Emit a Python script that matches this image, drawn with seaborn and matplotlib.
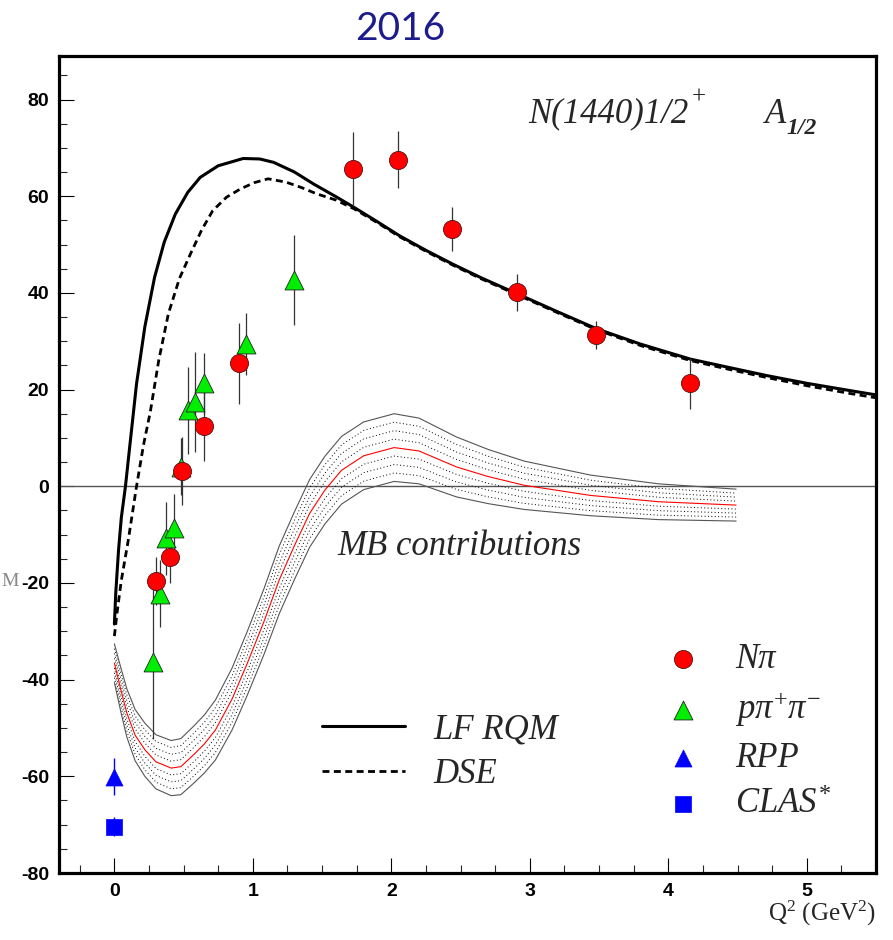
import matplotlib

matplotlib.use("Agg")
import matplotlib.pyplot as plt
import numpy as np
import pandas as pd
import seaborn as sns
from matplotlib.ticker import MultipleLocator

# ---- values ----
# LF RQM curve (solid)
lf_q2 = [0.0, 0.01, 0.03, 0.05, 0.08, 0.11, 0.16, 0.22, 0.29, 0.36, 0.44, 0.53, 0.62, 0.75,
         0.93, 1.05, 1.15, 1.30, 1.44, 1.60, 1.73, 1.90, 2.06, 2.25, 2.44, 2.65, 2.91, 3.20,
         3.48, 3.80, 4.16, 4.45, 4.71, 5.00, 5.31, 5.50]
lf_a12 = [-28.5, -22.0, -13.2, -6.5, 0.0, 8.0, 21.2, 33.0, 43.2, 50.5, 56.3, 60.8, 63.9, 66.3,
          67.8, 67.7, 67.0, 65.0, 62.5, 59.9, 57.7, 54.7, 51.8, 48.8, 46.0, 43.1, 39.8, 36.1,
          32.6, 29.4, 26.3, 24.5, 22.9, 21.3, 19.8, 18.9]

# DSE curve (dashed)
dse_q2 = [0.0, 0.02, 0.05, 0.10, 0.16, 0.21, 0.26, 0.32, 0.39, 0.47, 0.55, 0.63, 0.71, 0.81,
          0.91, 1.01, 1.11, 1.24, 1.35, 1.46, 1.60, 1.73, 1.90, 2.06, 2.25, 2.44, 2.65, 2.91,
          3.20, 3.48, 3.80, 4.16, 4.45, 4.71, 5.00, 5.31, 5.50]
dse_a12 = [-31.0, -26.0, -19.5, -11.2, 0.0, 8.5, 15.5, 26.0, 35.7, 43.0, 48.1, 53.0, 57.0, 59.8,
           61.5, 62.8, 63.6, 62.9, 61.8, 60.5, 59.2, 57.4, 54.5, 51.6, 48.6, 45.8, 42.9, 39.6,
           35.9, 32.4, 29.1, 26.0, 24.1, 22.5, 20.8, 19.2, 18.3]

# MB contributions band: centre line and half width
mb_q2 = [0.0, 0.05, 0.09, 0.15, 0.22, 0.30, 0.41, 0.48, 0.57, 0.65, 0.73, 0.85, 0.96, 1.08,
         1.19, 1.30, 1.41, 1.52, 1.64, 1.80, 2.02, 2.20, 2.47, 2.70, 2.96, 3.44, 3.93, 4.49]
mb_a12 = [-36.6, -42.5, -46.9, -51.5, -54.5, -57.0, -58.3, -58.0, -55.6, -53.3, -50.4, -44.0,
          -36.6, -28.0, -19.4, -12.3, -5.6, -0.8, 3.3, 6.3, 8.0, 7.3, 4.0, 2.0, 0.2, -1.9,
          -3.2, -3.9]
mb_halfwidth = [4.0, 4.6, 5.0, 5.3, 5.5, 5.6, 5.7, 5.8, 5.9, 6.0, 6.2, 6.4, 6.6, 6.8, 7.0, 7.0,
                7.0, 7.0, 7.0, 7.0, 7.0, 6.8, 6.2, 5.6, 5.0, 4.2, 3.7, 3.3]

# N pi data
npi_q2 = [0.30, 0.40, 0.49, 0.65, 0.90, 1.72, 2.05, 2.44, 2.91, 3.48, 4.16]
npi_a12 = [-19.6, -14.6, 3.1, 12.5, 25.4, 65.6, 67.5, 53.2, 40.1, 31.2, 21.3]
npi_err = [5.0, 5.5, 7.0, 7.3, 8.3, 7.6, 5.9, 4.5, 3.8, 2.9, 5.3]

# p pi+ pi- data
ppp_q2 = [0.28, 0.33, 0.37, 0.43, 0.48, 0.53, 0.58, 0.65, 0.95, 1.30]
ppp_a12 = [-36.3, -22.2, -10.8, -8.7, 4.0, 15.7, 17.4, 21.3, 29.5, 42.6]
ppp_err = [16.0, 7.0, 7.5, 7.0, 5.9, 9.0, 10.3, 6.3, 6.4, 9.3]

# photon points
rpp_q2 = [0.0]
rpp_a12 = [-60.1]
rpp_err = [3.8]
clas_q2 = [0.0]
clas_a12 = [-70.4]
clas_err = [2.0]

x_ticks = [0, 1, 2, 3, 4, 5]
y_ticks = [-80, -60, -40, -20, 0, 20, 40, 60, 80]

# ---- style ----
sns.set_theme(style="white")
plt.rcParams["font.family"] = ["Liberation Sans", "DejaVu Sans"]
plt.rcParams["axes.unicode_minus"] = False
plt.rcParams["mathtext.fontset"] = "custom"
plt.rcParams["mathtext.rm"] = "Liberation Serif"
plt.rcParams["mathtext.it"] = "Liberation Serif:italic"
plt.rcParams["mathtext.bf"] = "Liberation Serif:bold"

W, H = 893, 940
fig = plt.figure(figsize=(W / 100, H / 100), dpi=100)
fig.patch.set_facecolor("white")
ax = fig.add_axes([59 / W, 1 - 873 / H, (876 - 59) / W, (873 - 56) / H])
ax.set_facecolor("white")

ax.axhline(0, color="#555555", lw=1.0, zorder=1)

# MB band: outer solid lines, inner dotted lines, red centre
band_x = np.array(mb_q2)
band_c = np.array(mb_a12)
band_h = np.array(mb_halfwidth)
for frac in [-1, -0.75, -0.5, -0.25, 0.25, 0.5, 0.75, 1]:
    if abs(frac) == 1:
        style = dict(color="#555555", lw=0.8, linestyle="-")
    else:
        style = dict(color="black", lw=0.7, linestyle=(0, (1, 2.5)))
    sns.lineplot(x=band_x, y=band_c + frac * band_h, ax=ax, estimator=None, sort=False,
                 zorder=2, **style)
sns.lineplot(x=band_x, y=band_c, ax=ax, color="red", lw=0.8, estimator=None, sort=False,
             zorder=2)

# model curves
sns.lineplot(x=lf_q2, y=lf_a12, ax=ax, color="black", lw=2.2, estimator=None, sort=False,
             zorder=3, label="LF RQM")
sns.lineplot(x=dse_q2, y=dse_a12, ax=ax, color="black", lw=2.0, linestyle=(0, (2.5, 1.6)),
             estimator=None, sort=False, zorder=3, label="DSE")
line_handles = ax.get_lines()[-2:]
if ax.get_legend() is not None:
    ax.get_legend().remove()

# data with error bars
err_kw = dict(fmt="none", ecolor="#333333", elinewidth=0.9, capsize=0, zorder=4)
ax.errorbar(ppp_q2, ppp_a12, yerr=ppp_err, **err_kw)
ax.errorbar(npi_q2, npi_a12, yerr=npi_err, **err_kw)
ax.errorbar(rpp_q2, rpp_a12, yerr=rpp_err, fmt="none", ecolor="blue", elinewidth=1.0,
            capsize=0, zorder=4)
ax.errorbar(clas_q2, clas_a12, yerr=clas_err, fmt="none", ecolor="blue", elinewidth=1.0,
            capsize=0, zorder=4)

h_ppp = ax.scatter(ppp_q2, ppp_a12, marker="^", s=185, color="#00ee00", edgecolor="#222222",
                   linewidth=0.6, zorder=5, label=r"$\mathit{p}\pi^{+}\pi^{-}$")
h_npi = ax.scatter(npi_q2, npi_a12, marker="o", s=170, color="#ff0000", edgecolor="#551111",
                   linewidth=0.6, zorder=6, label="Nπ")
h_rpp = ax.scatter(rpp_q2, rpp_a12, marker="^", s=150, color="blue", edgecolor="blue",
                   linewidth=0.5, zorder=6, label="RPP")
h_clas = ax.scatter(clas_q2, clas_a12, marker="s", s=120, color="blue", edgecolor="blue",
                    linewidth=0.5, zorder=6, label=r"$\mathit{CLAS}^{*}$")

# axes
ax.set_xlim(-0.4, 5.5)
ax.set_ylim(-80, 89)
ax.set_xticks(x_ticks)
ax.set_yticks(y_ticks)
ax.xaxis.set_minor_locator(MultipleLocator(0.25))
ax.yaxis.set_minor_locator(MultipleLocator(5))
ax.tick_params(which="major", direction="in", length=11, width=0.8, pad=7, labelsize=14,
               colors="black", left=True, bottom=True)
ax.tick_params(which="minor", direction="in", length=5.5, width=0.8, left=True, bottom=True)
for lab in ax.get_xticklabels() + ax.get_yticklabels():
    lab.set_fontweight("bold")
for sp in ax.spines.values():
    sp.set_linewidth(2.3)
    sp.set_color("black")

ax.set_xlabel(r"Q$^{2}$ (GeV$^{2}$)", fontsize=18, family="Liberation Serif", ha="right",
              va="center")
ax.xaxis.set_label_coords(1.0, -0.049)
ax.set_ylabel("")

serif_it = dict(family="Liberation Serif", style="italic")
t_state = ax.text(2.99, 75.2, "N(1440)1/2", fontsize=25, va="baseline", ha="left", **serif_it)
ax.annotate("+", xy=(1, 0.68), xycoords=t_state, xytext=(2, 0), textcoords="offset points",
            fontsize=18, family="Liberation Serif", va="bottom", ha="left")
t_amp = ax.text(4.70, 75.2, "A", fontsize=25, va="baseline", ha="left", **serif_it)
ax.annotate("1/2", xy=(1, 0), xycoords=t_amp, xytext=(0, -6), textcoords="offset points",
            fontsize=17, va="bottom", ha="left", fontweight="bold", **serif_it)
ax.text(1.61, -12.5, "MB contributions", fontsize=25, va="center", ha="left", **serif_it)

leg1 = ax.legend(handles=line_handles, labels=["LF RQM", "DSE"], loc="center left",
                 bbox_to_anchor=(1.50, -55.0), bbox_transform=ax.transData, frameon=False,
                 prop=dict(size=25, **serif_it), handlelength=2.4, handletextpad=0.8,
                 labelspacing=0.35, borderpad=0, borderaxespad=0)
ax.add_artist(leg1)
ax.legend(handles=[h_npi, h_ppp, h_rpp, h_clas], loc="center left",
          bbox_to_anchor=(3.98, -50.9), bbox_transform=ax.transData, frameon=False,
          prop=dict(size=25, **serif_it), handlelength=1.0, handletextpad=1.0,
          labelspacing=0.38, borderpad=0, borderaxespad=0, scatterpoints=1)

fig.text(400 / W, 1 - 29 / H, "2016", fontsize=28, family="Lato", color="#1c1c8c",
         ha="center", va="center")
fig.text(1 / W, 1 - 582 / H, "M", fontsize=14, family="Liberation Serif", color="#888888",
         ha="left", va="center")

fig.savefig("out.png", dpi=100)
